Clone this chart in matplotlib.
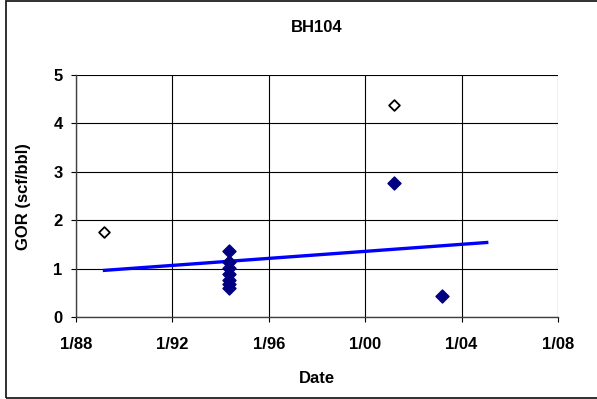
import matplotlib
matplotlib.use("Agg")
import matplotlib.pyplot as plt
from matplotlib.patches import Rectangle
import datetime as dt

plt.rcParams['font.family'] = ['Liberation Sans', 'DejaVu Sans']

# Data
filled_dates = ["1994-05-01"] * 7 + ["2001-03-20", "2003-03-10"]
filled_gor = [1.36, 1.13, 1.02, 0.88, 0.77, 0.68, 0.59, 2.76, 0.43]
open_dates = ["1989-03-01", "2001-03-20"]
open_gor = [1.75, 4.37]
trend_dates = ["1989-02-10", "2005-02-10"]
trend_gor = [0.96, 1.54]
xtick_dates = ["1988-01-01", "1992-01-01", "1996-01-01", "2000-01-01", "2004-01-01", "2008-01-01"]
xtick_labels = ["1/88", "1/92", "1/96", "1/00", "1/04", "1/08"]
yticks = [0, 1, 2, 3, 4, 5]

def d(s):
    return dt.datetime.strptime(s, "%Y-%m-%d")

W, H = 597, 399
fig = plt.figure(figsize=(W / 100, H / 100), dpi=100)
L, R, T, B = 76, 558, 74.7, 317
ax = fig.add_axes([L / W, 1 - B / H, (R - L) / W, (B - T) / H])

ax.plot([d(s) for s in trend_dates], trend_gor, color='#0000FF', lw=2.4, zorder=2,
        solid_capstyle='butt')
ax.scatter([d(s) for s in filled_dates], filled_gor, marker='D', s=44, color='#000080',
           edgecolor='#000080', zorder=3)
ax.scatter([d(s) for s in open_dates], open_gor, marker='D', s=30, facecolor='white',
           edgecolor='black', linewidths=1.3, zorder=3)

ax.set_xlim(d(xtick_dates[0]), d(xtick_dates[-1]))
ax.set_ylim(0, 5)
ax.set_xticks([d(s) for s in xtick_dates])
ax.set_xticklabels(xtick_labels)
ax.set_yticks(yticks)
ax.grid(True, color='black', lw=0.8)
ax.set_axisbelow(True)
for sp in ['top', 'right']:
    ax.spines[sp].set_visible(False)
for sp in ['left', 'bottom']:
    ax.spines[sp].set_color('#404040')
    ax.spines[sp].set_linewidth(1.0)
ax.tick_params(axis='both', direction='out', length=3.6, width=0.8, colors='black',
               labelsize=12)
ax.tick_params(axis='y', pad=6)
ax.tick_params(axis='x', pad=11)
for lab in ax.get_xticklabels() + ax.get_yticklabels():
    lab.set_fontweight('bold')

fig.text((L + R) / 2 / W, 1 - 27.5 / H, "BH104", fontsize=12, fontweight='bold',
         ha='center', va='center')
fig.text((L + R) / 2 / W, 1 - 378.8 / H, "Date", fontsize=12, fontweight='bold',
         ha='center', va='center')
fig.text(24 / W, 1 - 197 / H, "GOR (scf/bbl)", fontsize=12, fontweight='bold',
         ha='center', va='center', rotation=90)

fig.patches.append(Rectangle((6 / W, 1 - 397.7 / H), 1.0, 396.7 / H,
                             transform=fig.transFigure, fill=False,
                             edgecolor='#202020', lw=1.3, clip_on=False))

fig.savefig("out.png", dpi=100)
